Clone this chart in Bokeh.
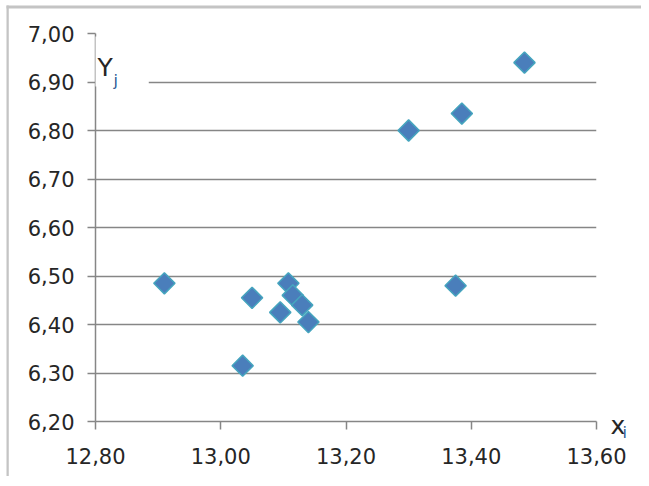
from bokeh.plotting import figure
from bokeh.models import Range1d, FixedTicker, CustomJSTickFormatter, Label, ColumnDataSource
from bokeh.embed import file_html
from bokeh.resources import INLINE
import numpy as np

# data
x_vals = [12.91, 13.035, 13.05, 13.095, 13.108, 13.115, 13.13, 13.14, 13.30, 13.375, 13.385, 13.485]
y_vals = [6.485, 6.315, 6.455, 6.425, 6.485, 6.46, 6.44, 6.405, 6.80, 6.48, 6.835, 6.94]
x_ticks = [12.8, 13.0, 13.2, 13.4, 13.6]
y_ticks = [6.2, 6.3, 6.4, 6.5, 6.6, 6.7, 6.8, 6.9, 7.0]

FONT = "DejaVu Sans"
TEXT = "#262626"
SUB = "#2d5a94"
GRID = "#868686"
FRAME_GREY = "#c4c4c4"

p = figure(
    output_backend="svg", toolbar_location=None,
    x_range=Range1d(x_ticks[0], x_ticks[-1]), y_range=Range1d(y_ticks[0], y_ticks[-1]),
    frame_width=501, frame_height=388,
    min_border_left=95, min_border_right=45, min_border_top=33, min_border_bottom=55,
    background_fill_color="white", border_fill_color="white",
)
p.outline_line_color = None

fmt = CustomJSTickFormatter(code="return tick.toFixed(2).replace('.', ',');")
for ax, ticks in ((p.xaxis[0], x_ticks), (p.yaxis[0], y_ticks)):
    ax.ticker = FixedTicker(ticks=ticks)
    ax.formatter = fmt
    ax.axis_line_color = GRID
    ax.axis_line_width = 1.5
    ax.major_tick_line_color = GRID
    ax.major_tick_line_width = 1.5
    ax.major_tick_out = 8
    ax.major_tick_in = 0
    ax.minor_tick_line_color = None
    ax.major_label_text_font = FONT
    ax.major_label_text_font_size = "21px"
    ax.major_label_text_color = TEXT
p.xaxis[0].major_label_standoff = 18
p.yaxis[0].major_label_standoff = 13

p.xgrid.grid_line_color = None
p.ygrid.ticker = FixedTicker(ticks=y_ticks)
p.ygrid.grid_line_color = GRID
p.ygrid.grid_line_width = 1.5

src = ColumnDataSource(dict(x=x_vals, y=y_vals))
p.scatter("x", "y", source=src, marker="square", angle=np.pi / 4, size=15,
          fill_color="#4A7EBB", line_color="#45A5BE", line_width=1.5)

# axis titles
p.add_layout(Label(x=x_ticks[0], y=y_ticks[-1], x_offset=-3, y_offset=-28, text="Y",
                   text_font=FONT, text_font_size="25px", text_color=TEXT,
                   text_baseline="alphabetic", text_align="left",
                   background_fill_color="white",
                   padding=dict(top=16, right=36, bottom=5, left=5)))
p.add_layout(Label(x=x_ticks[0], y=y_ticks[-1], x_offset=18, y_offset=-47, text="j",
                   text_font=FONT, text_font_size="16px", text_color=SUB,
                   text_baseline="alphabetic", text_align="left"))
p.add_layout(Label(x=x_ticks[-1], y=y_ticks[0], x_offset=14, y_offset=-4, text="x",
                   text_font=FONT, text_font_size="25px", text_color=TEXT,
                   text_baseline="alphabetic", text_align="left"), "right")
p.add_layout(Label(x=x_ticks[-1], y=y_ticks[0], x_offset=26, y_offset=-11, text="i",
                   text_font=FONT, text_font_size="16px", text_color=SUB,
                   text_baseline="alphabetic", text_align="left"), "right")

# thin grey chart-area border (left and top edges)
p.add_layout(Label(x=x_ticks[0], y=y_ticks[-1], x_offset=-89, y_offset=28, text=" ",
                   text_font_size="1px", text_baseline="top", text_align="left",
                   background_fill_color=FRAME_GREY,
                   padding=dict(top=0, right=640, bottom=2, left=0)), "below")
p.add_layout(Label(x=x_ticks[0], y=y_ticks[-1], x_offset=-89, y_offset=28, text=" ",
                   text_font_size="1px", text_baseline="top", text_align="left",
                   background_fill_color=FRAME_GREY,
                   padding=dict(top=0, right=0, bottom=480, left=2)), "left")

open("out.html", "w").write(file_html(p, INLINE))
